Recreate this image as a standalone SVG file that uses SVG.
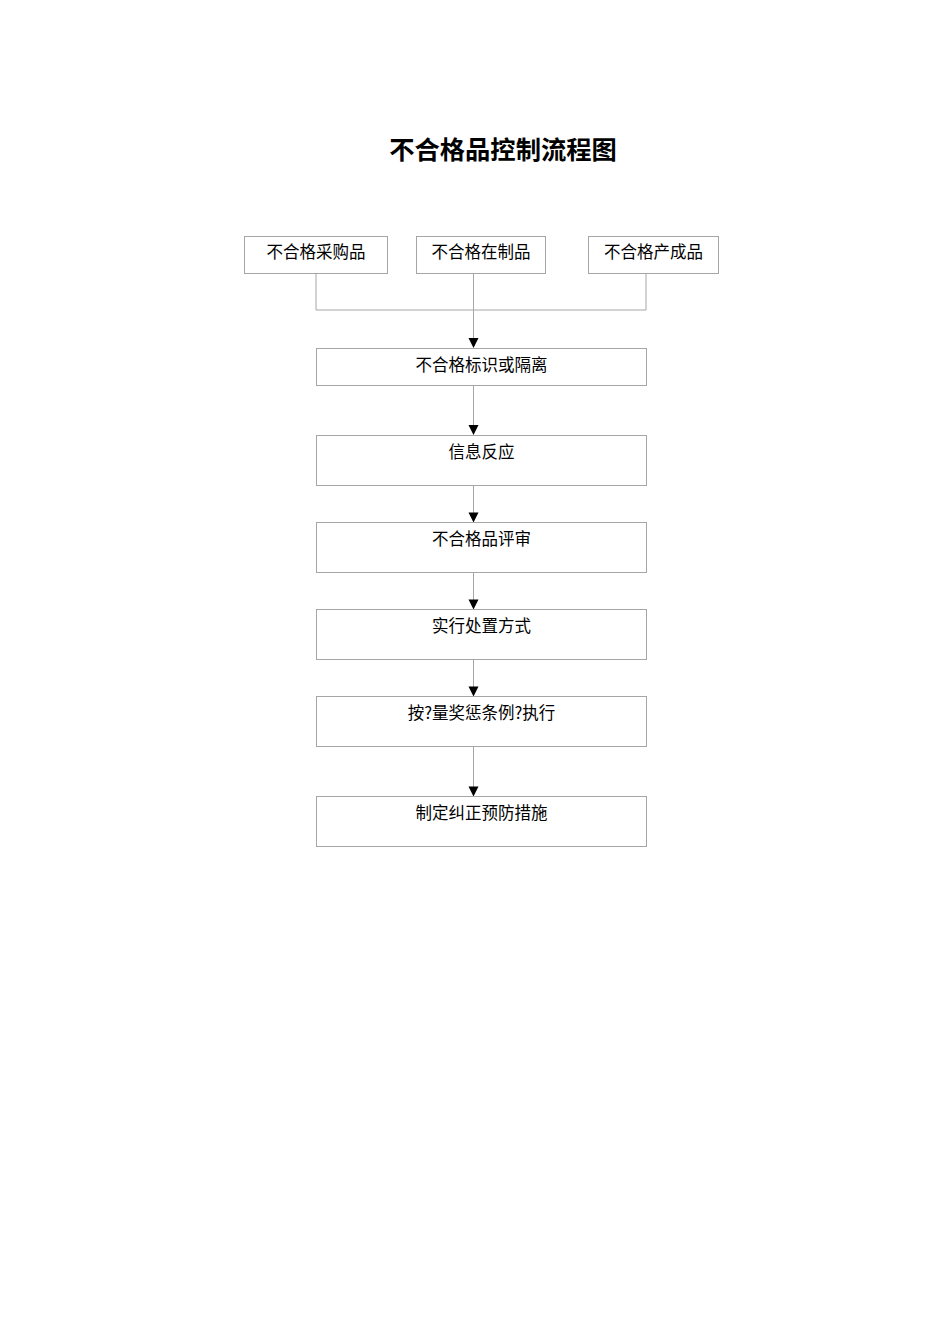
<svg xmlns="http://www.w3.org/2000/svg" width="950" height="1344" viewBox="0 0 950 1344">
<style>
.box{fill:#fff;stroke:#a6a6a6;stroke-width:1}
.ln{fill:none;stroke:#a6a6a6;stroke-width:1}
.ah{fill:#000}
.t{font-family:"Noto Sans CJK SC","Liberation Sans",sans-serif;font-size:16.5px;fill:#000;text-anchor:middle}
.title{font-family:"Noto Sans CJK SC","Liberation Sans",sans-serif;font-size:25.3px;font-weight:bold;fill:#000;text-anchor:middle}
</style>
<rect width="950" height="1344" fill="#fff"/>
<text class="title" x="503" y="159">不合格品控制流程图</text>
<g id="connectors">
<polyline class="ln" points="316,273 316,310 646,310 646,273"/>
<line class="ln" x1="473.5" y1="273" x2="473.5" y2="339"/>
<polygon class="ah" points="468.5,338 478.5,338 473.5,348"/>
<line class="ln" x1="473.5" y1="385" x2="473.5" y2="426"/>
<polygon class="ah" points="468.5,425 478.5,425 473.5,435"/>
<line class="ln" x1="473.5" y1="485" x2="473.5" y2="513"/>
<polygon class="ah" points="468.5,512.5 478.5,512.5 473.5,522.5"/>
<line class="ln" x1="473.5" y1="572" x2="473.5" y2="600"/>
<polygon class="ah" points="468.5,599.5 478.5,599.5 473.5,609.5"/>
<line class="ln" x1="473.5" y1="659" x2="473.5" y2="687"/>
<polygon class="ah" points="468.5,686.5 478.5,686.5 473.5,696.5"/>
<line class="ln" x1="473.5" y1="746" x2="473.5" y2="787"/>
<polygon class="ah" points="468.5,786.5 478.5,786.5 473.5,796.5"/>
</g>
<g id="n1"><rect class="box" x="244.5" y="236.5" width="143" height="37"/><text class="t" x="316" y="258">不合格采购品</text></g>
<g id="n2"><rect class="box" x="416.5" y="236.5" width="129" height="37"/><text class="t" x="481" y="258">不合格在制品</text></g>
<g id="n3"><rect class="box" x="588.5" y="236.5" width="130" height="37"/><text class="t" x="653.5" y="258">不合格产成品</text></g>
<g id="n4"><rect class="box" x="316.5" y="348.5" width="330" height="37"/><text class="t" x="481.5" y="371">不合格标识或隔离</text></g>
<g id="n5"><rect class="box" x="316.5" y="435.5" width="330" height="50"/><text class="t" x="481.5" y="458">信息反应</text></g>
<g id="n6"><rect class="box" x="316.5" y="522.5" width="330" height="50"/><text class="t" x="481.5" y="545">不合格品评审</text></g>
<g id="n7"><rect class="box" x="316.5" y="609.5" width="330" height="50"/><text class="t" x="481.5" y="632">实行处置方式</text></g>
<g id="n8"><rect class="box" x="316.5" y="696.5" width="330" height="50"/><text class="t" x="481.5" y="719">按?量奖惩条例?执行</text></g>
<g id="n9"><rect class="box" x="316.5" y="796.5" width="330" height="50"/><text class="t" x="481.5" y="819">制定纠正预防措施</text></g>
</svg>
